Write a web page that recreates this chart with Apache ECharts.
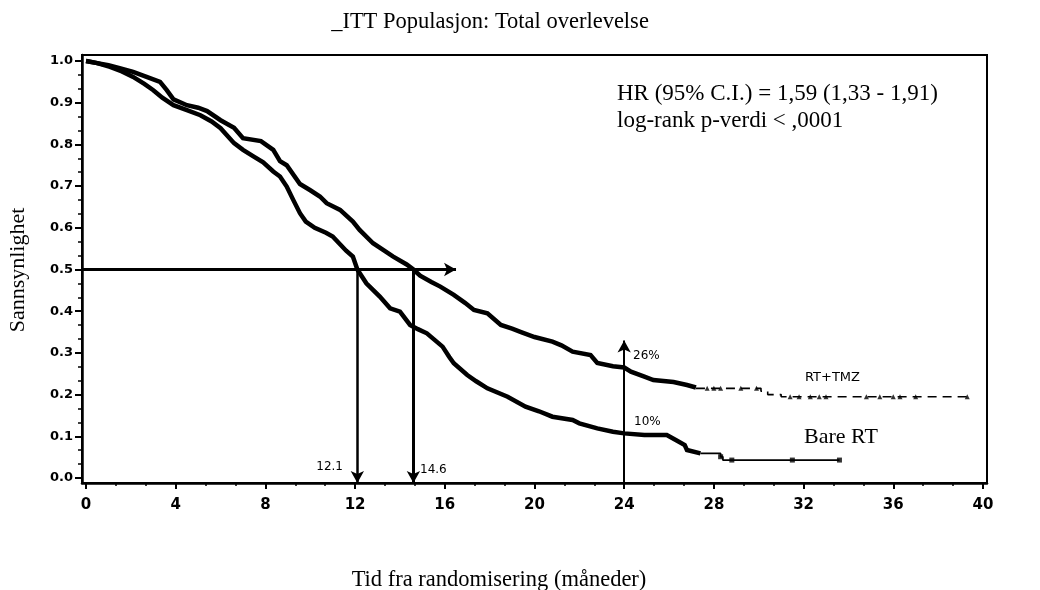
<!DOCTYPE html>
<html>
<head>
<meta charset="utf-8">
<script src="https://cdn.jsdelivr.net/npm/echarts@6/dist/echarts.min.js"></script>
<style>
html,body{margin:0;padding:0;background:#fff;}
#chart{width:1040px;height:590px;}
</style>
</head>
<body>
<div id="chart"></div>
<script>
// ---- Data ----
const tmzMonths = [0,0.5,1.0,1.5,2.1,2.7,3.3,3.6,3.9,4.5,5.0,5.4,6.0,6.6,7.0,7.8,8.35,8.65,8.95,9.54,10.0,10.43,10.73,11.33,11.9,12.2,12.8,13.3,13.7,14.3,14.6,14.9,15.4,15.8,16.4,16.9,17.3,17.9,18.5,19.0,19.4,20.0,20.8,21.2,21.7,22.5,22.8,23.5,24.0,24.3,24.9,25.3,26.2,26.8,27.2];
const tmzSurv   = [1.0,0.995,0.99,0.983,0.974,0.962,0.950,0.930,0.908,0.894,0.888,0.880,0.858,0.840,0.815,0.808,0.787,0.760,0.750,0.705,0.690,0.675,0.659,0.643,0.615,0.595,0.563,0.545,0.531,0.512,0.500,0.485,0.470,0.459,0.439,0.420,0.403,0.395,0.367,0.358,0.350,0.338,0.327,0.318,0.303,0.295,0.276,0.268,0.265,0.255,0.243,0.235,0.230,0.223,0.217];
const tmzTailMonths = [27.2,30.1,30.4,31.0,39.3];
const tmzTailSurv   = [0.215,0.208,0.200,0.195,0.195];
const tmzCensorMonths = [27.7,28.0,28.3,29.2,29.9,31.4,31.8,32.3,32.7,33.0,34.8,35.4,36.0,36.3,37.0,39.3];
const tmzCensorSurv   = [0.215,0.215,0.215,0.215,0.215,0.195,0.195,0.195,0.195,0.195,0.195,0.195,0.195,0.195,0.195,0.195];

const rtMonths = [0,0.5,1.07,1.6,2.1,2.6,3.0,3.4,3.9,4.5,5.1,5.6,6.0,6.6,7.0,7.5,7.9,8.35,8.65,8.95,9.24,9.54,9.8,10.2,10.7,11.0,11.6,11.9,12.1,12.5,13.1,13.56,14.0,14.45,14.8,15.2,15.9,16.2,16.4,17.0,17.4,17.9,18.8,19.6,20.2,20.8,21.7,22.0,22.8,23.5,24.0,24.9,25.9,26.3,26.7,26.8,27.4];
const rtSurv   = [1.0,0.995,0.986,0.975,0.962,0.945,0.930,0.912,0.894,0.882,0.870,0.855,0.839,0.803,0.787,0.770,0.757,0.735,0.723,0.699,0.667,0.635,0.615,0.600,0.588,0.579,0.545,0.531,0.500,0.467,0.435,0.407,0.399,0.367,0.357,0.347,0.315,0.290,0.275,0.247,0.232,0.215,0.195,0.171,0.160,0.147,0.139,0.131,0.119,0.111,0.107,0.103,0.103,0.091,0.079,0.067,0.059];
const rtTailMonths = [27.4,28.3,28.4,33.6];
const rtTailSurv   = [0.059,0.051,0.043,0.043];
const rtCensorMonths = [28.3,28.8,31.5,33.6];
const rtCensorSurv   = [0.051,0.043,0.043,0.043];

const medianSurvival = 0.5;
const medianMonths = [12.1, 14.6];   // Bare RT, RT+TMZ
const refArrowEnd = 16.5;
const twoYearMonth = 24;
const twoYearArrowTop = 0.33;

const xTicks = [0,4,8,12,16,20,24,28,32,36,40];
const yTicks = [0,0.1,0.2,0.3,0.4,0.5,0.6,0.7,0.8,0.9,1.0];

// ---- helpers ----
const zip = (a,b) => a.map((v,i) => [v,b[i]]);
const xMinor = []; for (let i=0;i<xTicks.length-1;i++){ const d=(xTicks[i+1]-xTicks[i])/3; xMinor.push(xTicks[i]+d, xTicks[i]+2*d); }
const yMinor = []; for (let i=0;i<yTicks.length-1;i++){ const d=(yTicks[i+1]-yTicks[i])/3; yMinor.push(+(yTicks[i]+d).toFixed(4), +(yTicks[i]+2*d).toFixed(4)); }

const chart = echarts.init(document.getElementById('chart'), null, {renderer:'canvas'});
const X_MIN=-0.18, X_MAX=40.18, Y_MIN=-0.012, Y_MAX=1.0144;
const serif = 'Liberation Serif';
const sans = 'DejaVu Sans';

const option = {
  animation: false,
  backgroundColor: '#fff',
  grid: { left: 82, right: 53, top: 55, bottom: 107, show: true, borderColor: '#000', borderWidth: 2, backgroundColor: 'transparent' },
  xAxis: [
    { type:'value', min:X_MIN, max:X_MAX, position:'bottom',
      axisLine:{ show:true, onZero:false, lineStyle:{ color:'#000', width:2.5 } },
      axisTick:{ show:true, length:6, lineStyle:{ color:'#000', width:2 }, customValues: xTicks },
      axisLabel:{ show:true, customValues: xTicks, margin:15, color:'#000', fontFamily:sans, fontWeight:'bold', fontSize:15 },
      splitLine:{ show:false } },
    { type:'value', min:X_MIN, max:X_MAX, position:'bottom', offset:0,
      axisLine:{ show:false, onZero:false }, axisLabel:{ show:false }, splitLine:{ show:false },
      axisTick:{ show:true, length:3, lineStyle:{ color:'#000', width:1.5 }, customValues: xMinor } }
  ],
  yAxis: [
    { type:'value', min:Y_MIN, max:Y_MAX, position:'left',
      axisLine:{ show:true, onZero:false, lineStyle:{ color:'#000', width:2.5 } },
      axisTick:{ show:true, length:7, lineStyle:{ color:'#000', width:2 }, customValues: yTicks },
      axisLabel:{ show:true, customValues: yTicks, margin:9, color:'#000', fontFamily:sans, fontWeight:'bold', fontSize:13,
                  formatter: v => v.toFixed(1) },
      splitLine:{ show:false } },
    { type:'value', min:Y_MIN, max:Y_MAX, position:'left', offset:0,
      axisLine:{ show:false, onZero:false }, axisLabel:{ show:false }, splitLine:{ show:false },
      axisTick:{ show:true, length:4, lineStyle:{ color:'#000', width:1.5 }, customValues: yMinor } }
  ],
  series: [
    { name:'RT+TMZ', type:'line', data: zip(tmzMonths, tmzSurv), symbol:'none',
      lineStyle:{ color:'#000', width:4.5, join:'miter' }, z:3 },
    { name:'RT+TMZ tail', type:'line', step:'end', data: zip(tmzTailMonths, tmzTailSurv), symbol:'none',
      lineStyle:{ color:'#000', width:1.6, type:[9,6] }, z:3 },
    { name:'RT+TMZ censored', type:'scatter', data: zip(tmzCensorMonths, tmzCensorSurv), symbol:'triangle', symbolSize:5,
      itemStyle:{ color:'#000' }, z:4 },
    { name:'Bare RT', type:'line', data: zip(rtMonths, rtSurv), symbol:'none',
      lineStyle:{ color:'#000', width:4.5, join:'miter' }, z:3 },
    { name:'Bare RT tail', type:'line', step:'end', data: zip(rtTailMonths, rtTailSurv), symbol:'none',
      lineStyle:{ color:'#000', width:1.8 }, z:3 },
    { name:'Bare RT censored', type:'scatter', data: zip(rtCensorMonths, rtCensorSurv), symbol:'rect', symbolSize:5,
      itemStyle:{ color:'#000' }, z:4 },
    { name:'guides', type:'line', data: [], symbol:'none', z:5,
      markLine: {
        silent:true, animation:false, symbol:['none','arrow'], symbolSize:[10,12],
        label:{ show:false },
        lineStyle:{ type:'solid', color:'#000', width:3 },
        data: [
          [ { coord:[X_MIN, medianSurvival] }, { coord:[refArrowEnd, medianSurvival] } ],
          [ { coord:[medianMonths[0], medianSurvival], lineStyle:{ width:2.5 } }, { coord:[medianMonths[0], Y_MIN] } ],
          [ { coord:[medianMonths[1], medianSurvival], lineStyle:{ width:3 } }, { coord:[medianMonths[1], Y_MIN] } ],
          [ { coord:[twoYearMonth, Y_MIN], lineStyle:{ width:2 } }, { coord:[twoYearMonth, twoYearArrowTop] } ]
        ]
      } }
  ],
  graphic: [
    { type:'text', x:490, y:22, style:{ text:'_ITT Populasjon: Total overlevelse', font:'22.5px "'+serif+'"', fill:'#000', textAlign:'center', textVerticalAlign:'middle' } },
    { type:'text', x:617, y:94, style:{ text:'HR (95% C.I.) = 1,59 (1,33 - 1,91)', font:'23px "'+serif+'"', fill:'#000', textAlign:'left', textVerticalAlign:'middle' } },
    { type:'text', x:617, y:121, style:{ text:'log-rank p-verdi < ,0001', font:'23px "'+serif+'"', fill:'#000', textAlign:'left', textVerticalAlign:'middle' } },
    { type:'text', x:499, y:580, style:{ text:'Tid fra randomisering (måneder)', font:'22.5px "'+serif+'"', fill:'#000', textAlign:'center', textVerticalAlign:'middle' } },
    { type:'text', x:18, y:270, rotation:Math.PI/2, style:{ text:'Sannsynlighet', font:'22px "'+serif+'"', fill:'#000', textAlign:'center', textVerticalAlign:'middle' } },
    { type:'text', x:343, y:467, style:{ text:'12.1', font:'12px "'+sans+'"', fill:'#000', textAlign:'right', textVerticalAlign:'middle' } },
    { type:'text', x:420, y:470, style:{ text:'14.6', font:'12px "'+sans+'"', fill:'#000', textAlign:'left', textVerticalAlign:'middle' } },
    { type:'text', x:633, y:356, style:{ text:'26%', font:'12px "'+sans+'"', fill:'#000', textAlign:'left', textVerticalAlign:'middle' } },
    { type:'text', x:634, y:422, style:{ text:'10%', font:'12px "'+sans+'"', fill:'#000', textAlign:'left', textVerticalAlign:'middle' } },
    { type:'text', x:805, y:378, style:{ text:'RT+TMZ', font:'13px "'+sans+'"', fill:'#000', textAlign:'left', textVerticalAlign:'middle' } },
    { type:'text', x:804, y:437, style:{ text:'Bare RT', font:'22px "'+serif+'"', fill:'#000', textAlign:'left', textVerticalAlign:'middle' } }
  ]
};
chart.setOption(option);
</script>
</body>
</html>
